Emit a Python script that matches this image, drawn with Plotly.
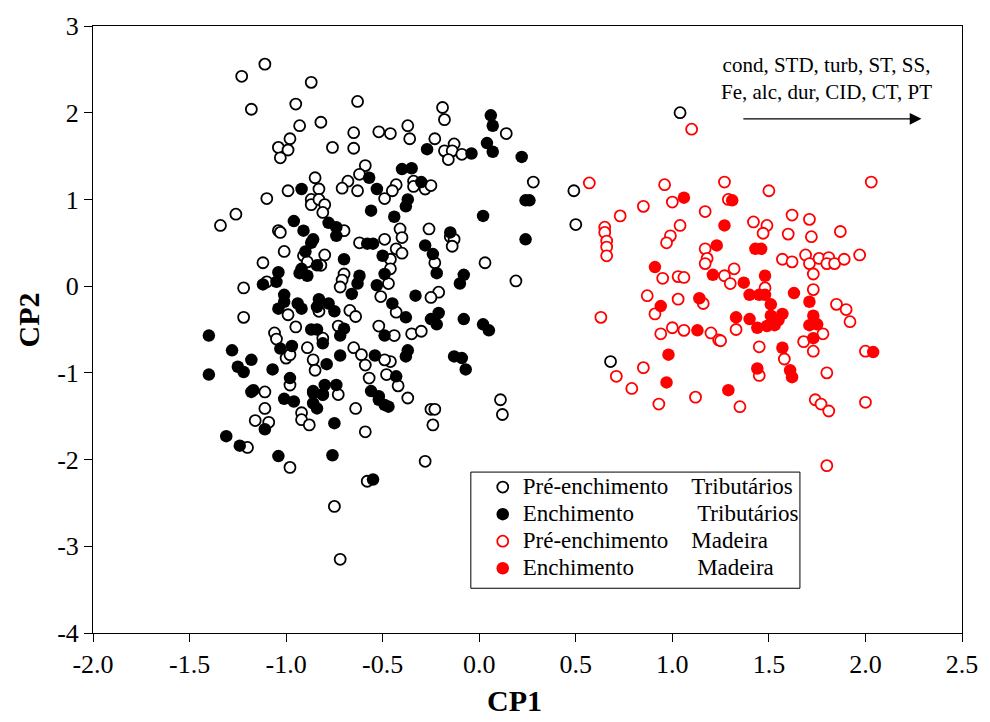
import plotly.graph_objects as go

# ---------------- data ----------------
pre_trib_x = [-1.11, -1.23, -0.87, -1.18, -0.95, -0.63, -0.93, -0.82, -0.98, -1.04, -0.99, -1.03, -0.76, -0.65, -0.65, -0.52,
              -0.59, -0.62, -0.68, -0.71, -0.63, -0.49, -0.85, -0.99, -0.83, -0.87, -0.87, -0.83, -0.80, -0.81, -1.10, -1.26,
              -1.34, -1.04, -0.70,
              -0.19, -0.18, 0.14, -0.46, -0.37, -0.36, -0.23, -0.13, -0.18, -0.14, -0.16, -0.09, -0.34, -0.43, -0.45, -0.34,
              -0.28, -0.25, 0.28, 0.49, 0.50, -0.41, -0.26,
              -0.40, -0.43, -0.40, -0.46, -0.46, -0.47, -0.15, -0.13, -0.14, -0.23, 0.03, 0.19, -0.21, -0.25, -0.43, -0.44,
              -0.35, -0.30, -0.46, -0.42, -0.37, 0.11,
              -0.25, -0.23, -0.24, 0.12, -0.28,
              -1.11, -0.92, -0.92, -0.88, -0.81, -0.73, -1.11, -1.16, -1.09, -1.20, -0.98, -0.64, -0.59, -0.58, -0.75, -0.72,
              -1.03, -0.62, -0.49, -1.01, -0.80, -0.91, -1.12, -0.89, -0.82, -1.22, -1.10, -0.70, -0.71, -0.72, -0.51, -0.99,
              -0.83, -0.67, -0.64, -1.22, -1.06, -1.05, -0.95, -0.81, -0.73, -0.52, -1.00, -0.98, -0.89, -0.86, -0.85, -0.65,
              -0.61, -0.59, -0.57, -0.49, -0.48, -0.98,
              1.04, 0.68]
pre_trib_y = [2.56, 2.42, 2.35, 2.04, 2.10, 2.13, 1.85, 1.89, 1.70, 1.60, 1.57, 1.48, 1.60, 1.77, 1.59, 1.78,
              1.39, 1.29, 1.21, 1.13, 1.10, 1.01, 1.25, 1.10, 1.12, 1.00, 0.94, 1.00, 0.94, 0.85, 1.01, 0.83,
              0.70, 0.64, 0.64,
              2.06, 1.92, 1.76, 1.76, 1.85, 1.70, 1.70, 1.64, 1.56, 1.56, 1.46, 1.52, 1.21, 1.17, 1.10, 1.15,
              1.12, 1.16, 1.20, 1.10, 0.71, 0.66, 0.66,
              0.56, 0.43, 0.38, 0.31, 0.20, 0.03, 0.57, 0.54, 0.46, 0.27, 0.27, 0.06, -0.07, -0.13, -0.30, -0.57,
              -0.55, -0.52, -0.87, -1.15, -1.29, -1.31,
              -1.42, -1.42, -1.60, -1.48, -2.02,
              -1.22, -1.46, -1.54, -1.60, -1.25, -1.25, -1.41, -1.55, -1.57, -1.86, -2.09, -1.41, -1.68, -2.25, -2.54, -3.15,
              0.62, 0.50, 0.54, 0.40, 0.36, 0.35, 0.27, 0.28, 0.24, -0.02, 0.05, 0.14, 0.07, -0.01, -0.12, -0.33,
              -0.29, -0.28, -0.35, -0.36, -0.54, -0.61, -0.47, -0.60, -0.46, -0.46, -0.83, -0.79, -0.71, -0.85, -0.97, -0.71,
              -0.79, -0.91, -1.06, -0.85, -1.02, -1.14,
              2.00, -0.87]

enc_trib_x = [-0.57, -0.53, -0.92, -0.56, -0.96, -0.91, -0.78, -0.74,
              0.06, 0.07, -0.27, -0.04, 0.04, 0.07, 0.22, -0.40, -0.35, -0.30, -0.37, -0.38, -0.44, 0.02, 0.24, 0.26, -0.15,
              0.24, -0.28, -0.24, -0.22, -0.08, -0.10, -0.33, -0.45, -0.38, -0.21, -0.25, -0.22, -0.08, 0.02, 0.05, -0.37,
              -0.38, -0.13, -0.09, -0.07, -0.43,
              -0.47,
              -1.18, -1.01, -0.96, -0.86, -0.86, -0.84, -1.11, -1.31, -1.24, -1.04, -0.75, -0.76, -0.55, -0.52, -0.49,
              -0.86, -0.87, -0.74, -0.58, -0.55, -0.90, -0.70, -0.92, -0.89, -0.93, -0.84, -1.04, -1.05, -1.12, -0.62, -0.63,
              -0.66, -0.50, -0.49, -0.53, -1.01, -1.04, -1.01, -0.94, -0.92, -0.83, -0.84, -0.78, -0.75, -1.40, -0.87, -0.84,
              -0.81, -0.70, -0.72, -0.49, -1.28, -1.18, -1.25, -1.22, -1.40, -1.07, -1.03, -0.97, -0.79, -0.72, -0.54, -0.98,
              -1.17, -0.86, -0.80, -0.81, -0.74, -0.56, -0.52]
enc_trib_y = [1.25, 1.12, 1.12, 0.87, 0.75, 0.64, 0.73, 0.68,
              1.97, 1.85, 1.58, 1.53, 1.65, 1.55, 1.49, 1.35, 1.36, 1.20, 1.00, 0.92, 0.80, 0.81, 0.99, 0.99, 0.62,
              0.54, 0.47, 0.37, 0.15, 0.13, 0.03, -0.11, -0.20, -0.36, -0.31, -0.38, -0.44, -0.38, -0.44, -0.51, -0.74,
              -0.81, -0.81, -0.83, -0.96, -1.04,
              -1.39,
              -1.22, -1.30, -1.33, -1.23, -1.35, -1.41, -1.65, -1.73, -1.84, -1.96, -1.58, -1.95, -2.23, -1.31, -1.37,
              0.54, 0.50, 0.58, 0.49, 0.49, 0.40, 0.31, 0.20, 0.12, 0.15, 0.24, 0.16, 0.05, 0.02, 0.12, 0.03,
              -0.09, 0.35, 0.14, 0.01, -0.10, -0.26, -0.18, -0.20, -0.26, -0.15, -0.24, -0.20, -0.29, -0.57, -0.50, -0.50,
              -0.66, -0.49, -0.57, -0.57, -0.74, -0.85, -0.93, -0.99, -1.02, -0.96, -0.72, -0.69, -0.90, -0.80, -0.80, -1.06,
              -1.20, -1.21, -1.14, -1.25, -1.14, -1.21, -1.27]

pre_mad_x = [1.10, 0.57, 0.96, 1.00, 1.17, 1.27, 1.29, 0.85, 0.73, 0.65, 0.65, 0.66, 0.66, 0.66, 1.04, 0.99, 0.97,
             1.17, 1.18, 1.17, 0.95, 1.03, 1.06, 0.87, 0.91, 1.03, 1.16, 0.63, 0.94, 1.00, 1.06, 1.20, 1.24, 0.85,
             0.71, 0.79, 0.93, 1.12, 1.50, 2.03, 1.42, 1.49, 1.47, 1.62, 1.71, 1.60, 1.72, 1.87, 1.57, 1.62, 1.69,
             1.71, 1.73, 1.76, 1.81, 1.80, 1.84, 1.89, 1.97, 1.32, 1.27, 1.30, 1.48, 1.73, 1.33, 1.25, 1.78, 1.68,
             1.73, 1.45, 1.58, 1.45, 1.35, 1.85, 1.90, 1.92, 2.00, 1.80, 1.74, 1.77, 1.81, 2.00, 1.80]
pre_mad_y = [1.81, 1.19, 1.17, 0.97, 0.86, 1.20, 1.00, 0.92, 0.81, 0.68, 0.62, 0.52, 0.45, 0.35, 0.70, 0.58, 0.50,
             0.43, 0.32, 0.26, 0.09, 0.11, 0.10, -0.11, -0.32, -0.15, -0.20, -0.36, -0.55, -0.48, -0.51, -0.54, -0.62, -0.94,
             -1.04, -1.18, -1.36, -1.28, 1.10, 1.20, 0.74, 0.70, 0.61, 0.82, 0.77, 0.60, 0.57, 0.63, 0.31, 0.28, 0.36,
             0.26, 0.14, 0.32, 0.33, 0.26, 0.26, 0.31, 0.36, 0.20, 0.12, 0.03, -0.02, -0.04, -0.50, -0.63, -0.55, -0.64,
             -0.75, -0.70, -0.84, -1.03, -1.39, -0.21, -0.27, -0.41, -0.75, -1.00, -1.31, -1.36, -1.44, -1.34, -2.07]

enc_mad_x = [1.06, 1.27, 1.23, 0.91, 1.21, 0.94, 1.14, 1.13, 0.98, 0.97, 1.29, 1.31, 1.43, 1.46, 1.37, 1.48,
             1.40, 1.45, 1.48, 1.51, 1.63, 1.71, 1.33, 1.40, 1.44, 1.49, 1.51, 1.55, 1.57, 1.53, 1.73, 1.71,
             1.75, 1.73, 1.57, 1.61, 1.62, 1.44, 2.04]
enc_mad_y = [1.02, 0.70, 0.47, 0.22, 0.13, -0.23, -0.14, -0.51, -0.79, -1.11, -1.20, 0.99, 0.43, 0.43, 0.04, 0.12,
             -0.10, -0.10, -0.10, -0.21, -0.08, -0.18, -0.36, -0.38, -0.48, -0.46, -0.34, -0.39, -0.32, -0.45, -0.34, -0.45,
             -0.44, -0.60, -0.71, -0.97, -1.05, -0.95, -0.76]

x_tick_vals = [-2.0, -1.5, -1.0, -0.5, 0.0, 0.5, 1.0, 1.5, 2.0, 2.5]
x_tick_text = ["-2.0", "-1.5", "-1.0", "-0.5", "0.0", "0.5", "1.0", "1.5", "2.0", "2.5"]
y_tick_vals = [-4, -3, -2, -1, 0, 1, 2, 3]
y_tick_text = ["-4", "-3", "-2", "-1", "0", "1", "2", "3"]

NB = "\u00a0"
series_names = ["Pré-enchimento" + NB * 4 + "Tributários",
                "Enchimento" + NB * 11 + "Tributários",
                "Pré-enchimento" + NB * 4 + "Madeira",
                "Enchimento" + NB * 11 + "Madeira"]
legend_names = ['<span style="font-size:23px">' + n + '</span>' for n in series_names]

FONT = "Liberation Serif"

# ---------------- figure ----------------
fig = go.Figure()
fig.add_trace(go.Scatter(x=pre_trib_x, y=pre_trib_y, mode="markers", name=legend_names[0],
                         marker=dict(symbol="circle", size=11, color="white",
                                     line=dict(color="black", width=1.8))))
fig.add_trace(go.Scatter(x=enc_trib_x, y=enc_trib_y, mode="markers", name=legend_names[1],
                         marker=dict(symbol="circle", size=12.5, color="black", line=dict(width=0))))
fig.add_trace(go.Scatter(x=pre_mad_x, y=pre_mad_y, mode="markers", name=legend_names[2],
                         marker=dict(symbol="circle", size=11, color="white",
                                     line=dict(color="#ff0000", width=1.8))))
fig.add_trace(go.Scatter(x=enc_mad_x, y=enc_mad_y, mode="markers", name=legend_names[3],
                         marker=dict(symbol="circle", size=12.5, color="#ff0000", line=dict(width=0))))

axis_common = dict(showline=True, linecolor="black", linewidth=1, mirror=True,
                   ticks="outside", ticklen=8, tickwidth=1, tickcolor="black",
                   showgrid=False, zeroline=False,
                   tickfont=dict(family=FONT, size=26, color="black"))

fig.update_xaxes(range=[-2.0, 2.5], tickvals=x_tick_vals, ticktext=x_tick_text, **axis_common)
fig.update_yaxes(range=[-4, 3], tickvals=y_tick_vals, ticktext=y_tick_text, **axis_common)

# axis titles
fig.add_annotation(x=0.485, y=-0.142, xref="paper", yref="paper", showarrow=False,
                   text="<b>CP1</b>", xanchor="center", yanchor="bottom",
                   font=dict(family=FONT, size=30, color="black"))
fig.add_annotation(x=-0.0744, y=0.5155, xref="paper", yref="paper", showarrow=False,
                   text="<b>CP2</b>", textangle=-90, xanchor="center", yanchor="middle",
                   font=dict(family=FONT, size=30, color="black"))

# direction arrow and variable list
fig.add_annotation(x=2.29, y=1.93, ax=1.36, ay=1.93, xref="x", yref="y", axref="x", ayref="y",
                   text="", showarrow=True, arrowhead=2, arrowsize=1.8, arrowwidth=1.3, arrowcolor="black")
fig.add_annotation(x=1.80, y=2.39, xref="x", yref="y", showarrow=False,
                   text="cond, STD, turb, ST, SS,<br>Fe, alc, dur, CID, CT, PT",
                   font=dict(family=FONT, size=21, color="black"))

# legend frame
fig.add_shape(type="rect", xref="paper", yref="paper", x0=0.4348, x1=0.8135, y0=0.0737, y1=0.2651,
              line=dict(color="black", width=1), fillcolor="white", layer="above")

fig.update_layout(width=990, height=722, margin=dict(l=93, r=23, t=22, b=89),
                  plot_bgcolor="white", paper_bgcolor="white",
                  font=dict(family=FONT, color="black"),
                  legend=dict(x=0.4485, y=0.2709, xanchor="left", yanchor="top",
                              borderwidth=0, bgcolor="rgba(0,0,0,0)",
                              font=dict(family=FONT, size=18.5, color="black"),
                              tracegroupgap=0))

fig.write_html("out.html")
